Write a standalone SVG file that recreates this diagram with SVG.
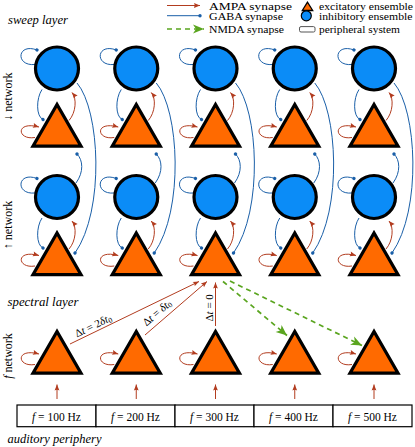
<svg xmlns="http://www.w3.org/2000/svg" width="415" height="447" viewBox="0 0 415 447" font-family="'Liberation Serif', 'Times New Roman', serif">
<style>
text{font-family:'Liberation Serif','Times New Roman',serif;fill:#000}
.exc{fill:#ff6a00;stroke:#000;stroke-width:3.2;stroke-linejoin:miter}
.inh{fill:#0b8cf7;stroke:#000;stroke-width:3.2}
.box{fill:#fff;stroke:#000;stroke-width:1.2}
.ampa{fill:none;stroke:#b23c1f;stroke-width:1;marker-end:url(#mA)}
.gaba{fill:none;stroke:#1a5fa8;stroke-width:1;marker-end:url(#mG)}
.nmda{fill:none;stroke:#5aa51f;stroke-width:1.7;stroke-dasharray:5,4;marker-end:url(#mN)}
</style>
<defs>
<marker id="mA" markerUnits="userSpaceOnUse" viewBox="-7 -4 8 8" refX="0" refY="0" markerWidth="8" markerHeight="8" orient="auto">
<path d="M0,0 L-6,-2.4 Q-4.3,0 -6,2.4 Z" fill="#b23c1f"/>
</marker>
<marker id="mG" markerUnits="userSpaceOnUse" viewBox="-3 -3 6 6" refX="0" refY="0" markerWidth="6" markerHeight="6" orient="auto">
<circle cx="0" cy="0" r="1.7" fill="#1a5fa8"/>
</marker>
<marker id="mN" markerUnits="userSpaceOnUse" viewBox="-12 -6 13 12" refX="0" refY="0" markerWidth="13" markerHeight="12" orient="auto">
<path d="M0,0 L-11,-4.6 L-8,0 L-11,4.6 Z" fill="#5aa51f"/>
</marker>
<g id="colConn">
<path class="gaba" d="M-22,64.5 C-42,66.5 -40,42.5 -20,50"/>
<path class="gaba" d="M-15,89.5 C-21,98.5 -21,116.5 -14,119.5"/>
<path class="ampa" d="M12,120.5 C19,112.5 20,98.5 15,92.5"/>
<path class="ampa" d="M-22,137.5 C-40,140.5 -42,120.5 -18,127"/>
<path class="gaba" d="M-22,193 C-42,195 -40,171 -20,178.5"/>
<path class="gaba" d="M-15,218 C-21,227 -21,245 -14,248"/>
<path class="ampa" d="M12,249 C19,241 20,227 15,221"/>
<path class="ampa" d="M-22,266 C-40,269 -42,249 -18,255.5"/>
<path class="gaba" d="M20,83 C43,110 48,210 18,253"/>
<path class="gaba" d="M19,183 C27,172 26,160 20,154"/>
<path class="ampa" d="M-22,364.5 C-40,367.5 -42,347.5 -18,354"/>
<path class="ampa" d="M0,399 L0,384.5"/>
</g>
</defs>

<!-- legend -->
<g id="legend">
<path class="ampa" d="M167,5.5 L200,5.5"/>
<path class="gaba" d="M167,15.7 L200,15.7"/>
<path class="nmda" d="M167,29 L204,29"/>
<text font-family="'Liberation Serif', serif" font-size="11" x="209" y="9.5" textLength="83" lengthAdjust="spacingAndGlyphs">AMPA synapse</text>
<text font-family="'Liberation Serif', serif" font-size="11" x="209" y="20" textLength="74" lengthAdjust="spacingAndGlyphs">GABA synapse</text>
<text font-family="'Liberation Serif', serif" font-size="11" x="209" y="32.5" textLength="75" lengthAdjust="spacingAndGlyphs">NMDA synapse</text>
<polygon points="307.5,2.2 302.3,10.5 312.7,10.5" fill="#ff6a00" stroke="#000" stroke-width="1.3"/>
<circle cx="306.3" cy="15.8" r="5" fill="#0b8cf7" stroke="#000" stroke-width="1.2"/>
<rect x="299.5" y="26.6" width="15.5" height="5.4" rx="1.5" fill="#fff" stroke="#555" stroke-width="1"/>
<text font-family="'Liberation Serif', serif" font-size="11" x="319" y="9.5" textLength="94" lengthAdjust="spacingAndGlyphs">excitatory ensemble</text>
<text font-family="'Liberation Serif', serif" font-size="11" x="319" y="20" textLength="93.5" lengthAdjust="spacingAndGlyphs">inhibitory ensemble</text>
<text font-family="'Liberation Serif', serif" font-size="11" x="319" y="32.5" textLength="81" lengthAdjust="spacingAndGlyphs">peripheral system</text>
</g>

<!-- layer labels -->
<text font-family="'Liberation Serif', serif" font-size="12" font-style="italic" x="8" y="23.5" textLength="60" lengthAdjust="spacingAndGlyphs">sweep layer</text>
<text font-family="'Liberation Serif', serif" font-size="12" font-style="italic" x="7.5" y="306" textLength="71" lengthAdjust="spacingAndGlyphs">spectral layer</text>
<text font-family="'Liberation Serif', serif" font-size="12" font-style="italic" x="7.5" y="443" textLength="94" lengthAdjust="spacingAndGlyphs">auditory periphery</text>
<text font-family="'Liberation Serif', serif" font-size="12" transform="translate(11.5,96.7) rotate(-90)" text-anchor="middle">↓ network</text>
<text font-family="'Liberation Serif', serif" font-size="12" transform="translate(11.5,225) rotate(-90)" text-anchor="middle">↑ network</text>
<text font-family="'Liberation Serif', serif" font-size="12" transform="translate(11.5,356) rotate(-90)" text-anchor="middle"><tspan font-style="italic">f</tspan> network</text>

<!-- connectors -->
<g id="connectors">
<use href="#colConn" transform="translate(57,0)"/>
<use href="#colConn" transform="translate(136.25,0)"/>
<use href="#colConn" transform="translate(215.5,0)"/>
<use href="#colConn" transform="translate(294.75,0)"/>
<use href="#colConn" transform="translate(374,0)"/>
<path class="ampa" d="M70,344 L199,281.5"/>
<path class="ampa" d="M145,335 L207,281.5"/>
<path class="ampa" d="M215.5,326 L215.5,282.5"/>
<path class="nmda" d="M223,281.5 L287,335.5"/>
<path class="nmda" d="M230,281 L362,345.5"/>
<text font-family="'Liberation Serif', serif" font-size="11" transform="translate(77,337.5) rotate(-25.85)">Δ<tspan font-style="italic">t</tspan> = 2<tspan font-style="italic">δt</tspan><tspan font-size="7.5" dy="1.5">0</tspan></text>
<text font-family="'Liberation Serif', serif" font-size="11" transform="translate(146.5,326.5) rotate(-40.8)">Δ<tspan font-style="italic">t</tspan> = <tspan font-style="italic">δt</tspan><tspan font-size="7.5" dy="1.5">0</tspan></text>
<text font-family="'Liberation Serif', serif" font-size="11" transform="translate(213,321.5) rotate(-90)">Δ<tspan font-style="italic">t</tspan> = 0</text>
</g>

<!-- sweep layer, down network -->
<g id="inh-down-1"><circle class="inh" cx="57" cy="68.5" r="21.5"/></g>
<g id="inh-down-2"><circle class="inh" cx="136.25" cy="68.5" r="21.5"/></g>
<g id="inh-down-3"><circle class="inh" cx="215.5" cy="68.5" r="21.5"/></g>
<g id="inh-down-4"><circle class="inh" cx="294.75" cy="68.5" r="21.5"/></g>
<g id="inh-down-5"><circle class="inh" cx="374" cy="68.5" r="21.5"/></g>
<g id="exc-down-1"><polygon class="exc" points="57,104.5 33,146.1 81,146.1"/></g>
<g id="exc-down-2"><polygon class="exc" points="136.25,104.5 112.25,146.1 160.25,146.1"/></g>
<g id="exc-down-3"><polygon class="exc" points="215.5,104.5 191.5,146.1 239.5,146.1"/></g>
<g id="exc-down-4"><polygon class="exc" points="294.75,104.5 270.75,146.1 318.75,146.1"/></g>
<g id="exc-down-5"><polygon class="exc" points="374,104.5 350,146.1 398,146.1"/></g>

<!-- sweep layer, up network -->
<g id="inh-up-1"><circle class="inh" cx="57" cy="197" r="21.5"/></g>
<g id="inh-up-2"><circle class="inh" cx="136.25" cy="197" r="21.5"/></g>
<g id="inh-up-3"><circle class="inh" cx="215.5" cy="197" r="21.5"/></g>
<g id="inh-up-4"><circle class="inh" cx="294.75" cy="197" r="21.5"/></g>
<g id="inh-up-5"><circle class="inh" cx="374" cy="197" r="21.5"/></g>
<g id="exc-up-1"><polygon class="exc" points="57,233 33,274.6 81,274.6"/></g>
<g id="exc-up-2"><polygon class="exc" points="136.25,233 112.25,274.6 160.25,274.6"/></g>
<g id="exc-up-3"><polygon class="exc" points="215.5,233 191.5,274.6 239.5,274.6"/></g>
<g id="exc-up-4"><polygon class="exc" points="294.75,233 270.75,274.6 318.75,274.6"/></g>
<g id="exc-up-5"><polygon class="exc" points="374,233 350,274.6 398,274.6"/></g>

<!-- spectral layer -->
<g id="exc-f-1"><polygon class="exc" points="57,331.5 33,373.1 81,373.1"/></g>
<g id="exc-f-2"><polygon class="exc" points="136.25,331.5 112.25,373.1 160.25,373.1"/></g>
<g id="exc-f-3"><polygon class="exc" points="215.5,331.5 191.5,373.1 239.5,373.1"/></g>
<g id="exc-f-4"><polygon class="exc" points="294.75,331.5 270.75,373.1 318.75,373.1"/></g>
<g id="exc-f-5"><polygon class="exc" points="374,331.5 350,373.1 398,373.1"/></g>

<!-- auditory periphery -->
<g id="periph-100"><rect class="box" x="17" y="405" width="79" height="21.7"/><text font-family="'Liberation Serif', serif" x="56.5" y="420.5" font-size="11.5" text-anchor="middle"><tspan font-style="italic">f</tspan> = 100 Hz</text></g>
<g id="periph-200"><rect class="box" x="96" y="405" width="79" height="21.7"/><text font-family="'Liberation Serif', serif" x="135.5" y="420.5" font-size="11.5" text-anchor="middle"><tspan font-style="italic">f</tspan> = 200 Hz</text></g>
<g id="periph-300"><rect class="box" x="175" y="405" width="79" height="21.7"/><text font-family="'Liberation Serif', serif" x="214.5" y="420.5" font-size="11.5" text-anchor="middle"><tspan font-style="italic">f</tspan> = 300 Hz</text></g>
<g id="periph-400"><rect class="box" x="254" y="405" width="79" height="21.7"/><text font-family="'Liberation Serif', serif" x="293.5" y="420.5" font-size="11.5" text-anchor="middle"><tspan font-style="italic">f</tspan> = 400 Hz</text></g>
<g id="periph-500"><rect class="box" x="333" y="405" width="79" height="21.7"/><text font-family="'Liberation Serif', serif" x="372.5" y="420.5" font-size="11.5" text-anchor="middle"><tspan font-style="italic">f</tspan> = 500 Hz</text></g>
</svg>
